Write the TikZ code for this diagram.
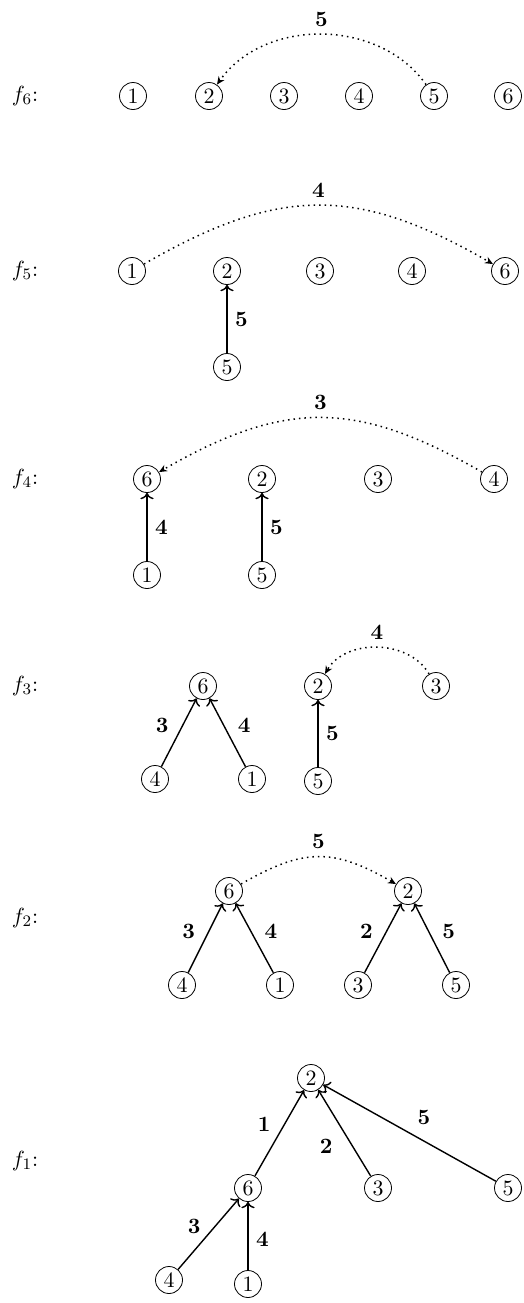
\documentclass[tikz,border=0pt,11pt]{standalone}
\usetikzlibrary{arrows.meta}
\tikzset{
  vtx/.style={circle,draw,thin,minimum size=13.5pt,inner sep=0pt},
  flab/.style={inner sep=0pt},
  tree/.style={line width=0.7pt,->},
  link/.style={line width=0.75pt,dotted,-{Stealth[length=4pt,width=3.5pt]}},
  wt/.style={font=\bfseries},
}
\begin{document}
\begin{tikzpicture}[x=0.5pt,y=-0.5pt]
\useasboundingbox (0,0) rectangle (524,1303);
% f6
\node[flab] (l6) at (25,96) {$f_6$:};
\node[vtx] (a1) at (133,96) {1};
\node[vtx] (a2) at (209,96) {2};
\node[vtx] (a3) at (284,96) {3};
\node[vtx] (a4) at (359,96) {4};
\node[vtx] (a5) at (434,96) {5};
\node[vtx] (a6) at (508,96) {6};
\draw[link] (a5) to[out=125,in=55,looseness=1.0] node[above,wt] {5} (a2);
% f5
\node[flab] (l5) at (25,271) {$f_5$:};
\node[vtx] (b1) at (132,271) {1};
\node[vtx] (b2) at (227,271) {2};
\node[vtx] (b3) at (320,271) {3};
\node[vtx] (b4) at (412,271) {4};
\node[vtx] (b6) at (505,271) {6};
\node[vtx] (b5) at (227,367) {5};
\draw[tree] (b5) -- node[right,wt] {5} (b2);
\draw[link] (b1) to[out=30,in=150,looseness=1.15] node[above,wt] {4} (b6);
% f4
\node[flab] (l4) at (25,479) {$f_4$:};
\node[vtx] (c6) at (147,479) {6};
\node[vtx] (c2) at (262,479) {2};
\node[vtx] (c3) at (378,479) {3};
\node[vtx] (c4) at (494,479) {4};
\node[vtx] (c1) at (147,575) {1};
\node[vtx] (c5) at (262,575) {5};
\draw[tree] (c1) -- node[right,wt] {4} (c6);
\draw[tree] (c5) -- node[right,wt] {5} (c2);
\draw[link] (c4) to[out=150,in=30,looseness=1.15] node[above,wt] {3} (c6);
% f3
\node[flab] (l3) at (25,686) {$f_3$:};
\node[vtx] (d6) at (203,686) {6};
\node[vtx] (d4) at (155,779) {4};
\node[vtx] (d1) at (252,779) {1};
\node[vtx] (d2) at (318,686) {2};
\node[vtx] (d5) at (318,781) {5};
\node[vtx] (d3) at (436,686) {3};
\draw[tree] (d4) -- node[pos=0.6,left=3pt,wt] {3} (d6);
\draw[tree] (d1) -- node[pos=0.6,right=3pt,wt] {4} (d6);
\draw[tree] (d5) -- node[right,wt] {5} (d2);
\draw[link] (d3) to[out=120,in=60,looseness=1] node[above,wt] {4} (d2);
% f2
\node[flab] (l2) at (25,918) {$f_2$:};
\node[vtx] (e6) at (229,891) {6};
\node[vtx] (e2) at (408,891) {2};
\node[vtx] (e4) at (182,985) {4};
\node[vtx] (e1) at (280,985) {1};
\node[vtx] (e3) at (358,985) {3};
\node[vtx] (e5) at (456,985) {5};
\draw[tree] (e4) -- node[pos=0.6,left=3pt,wt] {3} (e6);
\draw[tree] (e1) -- node[pos=0.6,right=3pt,wt] {4} (e6);
\draw[tree] (e3) -- node[pos=0.6,left=3pt,wt] {2} (e2);
\draw[tree] (e5) -- node[pos=0.6,right=3pt,wt] {5} (e2);
\draw[link] (e6) to[out=30,in=150,looseness=1.2] node[above,wt] {5} (e2);
% f1
\node[flab] (l1) at (25,1161) {$f_1$:};
\node[vtx] (g2) at (311,1078) {2};
\node[vtx] (g6) at (248,1188) {6};
\node[vtx] (g3) at (378,1188) {3};
\node[vtx] (g5) at (508,1188) {5};
\node[vtx] (g4) at (169,1280) {4};
\node[vtx] (g1) at (248,1284) {1};
\draw[tree] (g6) -- node[pos=0.6,left=3pt,wt] {1} (g2);
\draw[tree] (g3) -- node[pos=0.35,left=6pt,wt] {2} (g2);
\draw[tree] (g5) -- node[pos=0.5,above right,wt] {5} (g2);
\draw[tree] (g4) -- node[pos=0.6,left=3pt,wt] {3} (g6);
\draw[tree] (g1) -- node[pos=0.45,right,wt] {4} (g6);
\end{tikzpicture}
\end{document}
